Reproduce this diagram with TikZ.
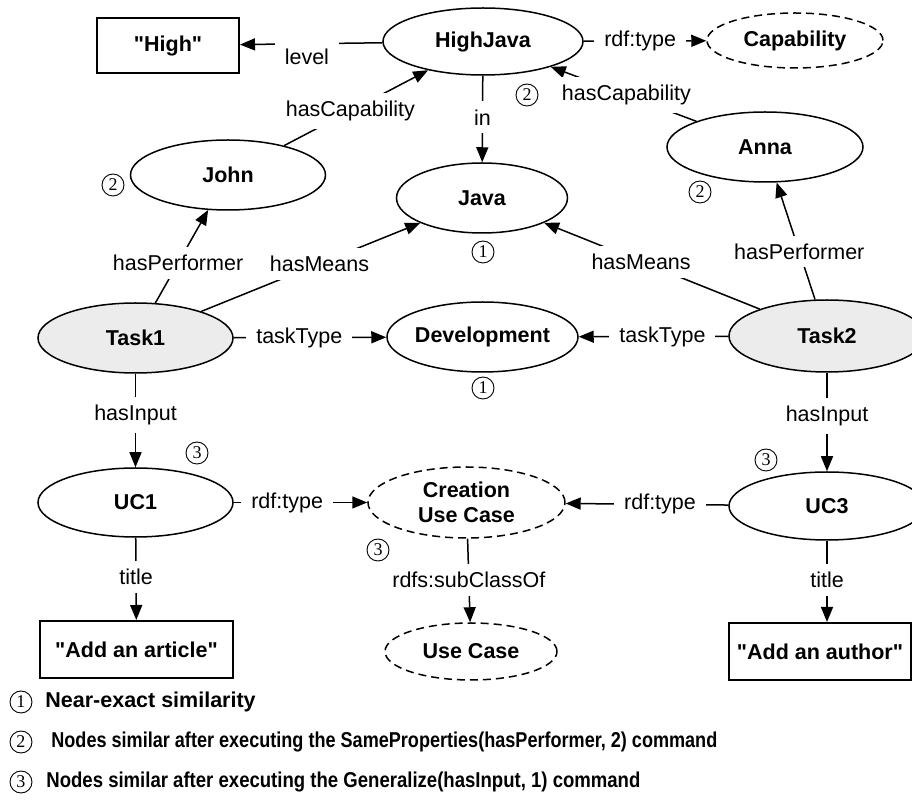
\documentclass[tikz,border=0pt]{standalone}
\usepackage{fontspec}
\usepackage{graphicx}
\setmainfont{Liberation Sans}
\newfontfamily\numfont{Liberation Serif}
\usetikzlibrary{shapes.geometric,arrows.meta}
\begin{document}
\begin{tikzpicture}[x=0.5pt,y=-0.5pt,
  ent/.style={ellipse,draw,line width=0.75pt,inner sep=0pt,font=\fontsize{10.75}{12.5}\selectfont\bfseries,align=center},
  cls/.style={ent,dash pattern=on 4pt off 2.5pt},
  task/.style={ent,fill=gray!15},
  lit/.style={rectangle,draw,line width=1pt,inner sep=0pt,font=\fontsize{10.75}{12.5}\selectfont\bfseries},
  lbl/.style={fill=white,inner xsep=5pt,inner ysep=4pt,font=\fontsize{10.75}{12.5}\selectfont},
  arr/.style={line width=0.75pt,-{Triangle[length=7.5pt,width=6pt]}},
  cnum/.style={circle,draw,line width=0.45pt,inner sep=0pt,minimum size=11pt,font=\numfont\fontsize{9}{9}\selectfont},
  leg/.style={anchor=west,inner sep=0pt,font=\fontsize{10.75}{12.5}\selectfont\bfseries}
]
\useasboundingbox (0,0) rectangle (912,807);

% nodes
\node[lit,minimum width=71pt,minimum height=27.5pt] (high) at (168,45.5) {\textquotedbl High\textquotedbl};
\node[ent,minimum width=100pt,minimum height=33.5pt] (hj) at (483,41.5) {HighJava};
\node[cls,minimum width=88pt,minimum height=27.5pt] (cap) at (795,40.5) {Capability};
\node[ent,minimum width=97.5pt,minimum height=35pt] (john) at (228,175) {John};
\node[ent,minimum width=98pt,minimum height=35pt] (anna) at (765,147) {Anna};
\node[ent,minimum width=85.5pt,minimum height=35pt] (java) at (482,198) {Java};
\node[task,minimum width=97.5pt,minimum height=35pt] (t1) at (135.5,338) {Task1};
\node[ent,minimum width=95.5pt,minimum height=35pt] (dev) at (482.5,337) {Development};
\node[task,minimum width=98pt,minimum height=36pt] (t2) at (827,336) {Task2};
\node[ent,minimum width=97.5pt,minimum height=34.5pt] (uc1) at (135.5,502.5) {UC1};
\node[cls,minimum width=98.5pt,minimum height=35.5pt] (cuc) at (466.5,502.5) {Creation\\Use Case};
\node[ent,minimum width=98pt,minimum height=34pt] (uc3) at (827,506) {UC3};
\node[cls,minimum width=86pt,minimum height=28.5pt] (uc) at (471,651.5) {Use Case};
\node[lit,minimum width=96.5pt,minimum height=28.5pt] (art) at (136.5,649.5) {\textquotedbl Add an article\textquotedbl};
\node[lit,minimum width=91pt,minimum height=28.5pt] (aut) at (820,651.5) {\textquotedbl Add an author\textquotedbl};

% connectors
\draw[arr] (hj) -- node[lbl,pos=.53,yshift=-6.5pt]{level} (high);
\draw[arr] (hj) -- node[lbl,pos=.46]{rdf:type} (cap);
\draw[arr] (hj) -- node[lbl,pos=.48]{in} (java);
\draw[arr] (john) -- node[lbl,pos=.46]{hasCapability} (hj);
\draw[arr] (anna) -- node[lbl,pos=.48]{hasCapability} (hj);
\draw[arr] (t1) -- node[lbl,pos=.43]{hasPerformer} (john);
\draw[arr] (t1) -- node[lbl,pos=.54]{hasMeans} (java);
\draw[arr] (t2) -- node[lbl,pos=.55]{hasMeans} (java);
\draw[arr] (t2) -- node[lbl,pos=.41]{hasPerformer} (anna);
\draw[arr] (t1) -- node[lbl,pos=.43]{taskType} (dev);
\draw[arr] (t2) -- node[lbl,pos=.44]{taskType} (dev);
\draw[arr] (t1) -- node[lbl,pos=.44]{hasInput} (uc1);
\draw[arr] (t2) -- node[lbl,pos=.44]{hasInput} (uc3);
\draw[arr] (uc1) -- node[lbl,pos=.4]{rdf:type} (cuc);
\draw[arr] (uc3) -- node[lbl,pos=.42]{rdf:type} (cuc);
\draw[arr] (cuc) -- node[lbl,pos=.49]{rdfs:subClassOf} (uc);
\draw[arr] (uc1) -- node[lbl,pos=.48]{title} (art);
\draw[arr] (uc3.south) -- node[lbl,pos=.48]{title} (uc3.south |- aut.north);

% similarity marks
\node[cnum] (m1) at (113,185) {2};
\node[cnum] (m2) at (527,95) {2};
\node[cnum] (m3) at (700,192) {2};
\node[cnum] (m4) at (483,252) {1};
\node[cnum] (m5) at (483,388) {1};
\node[cnum] (m6) at (197,453) {3};
\node[cnum] (m7) at (378,550) {3};
\node[cnum] (m8) at (766,460) {3};

% legend
\node[cnum] (l1) at (21,702) {1};
\node[leg] (lt1) at (45,702) {Near-exact similarity};
\node[cnum] (l2) at (21,742) {2};
\node[leg] (lt2) at (51,742) {\resizebox{333pt}{\height}{Nodes similar after executing the SameProperties(hasPerformer, 2) command}};
\node[cnum] (l3) at (21,782) {3};
\node[leg] (lt3) at (46,782) {\resizebox{297pt}{\height}{Nodes similar after executing the Generalize(hasInput, 1) command}};
\end{tikzpicture}
\end{document}
